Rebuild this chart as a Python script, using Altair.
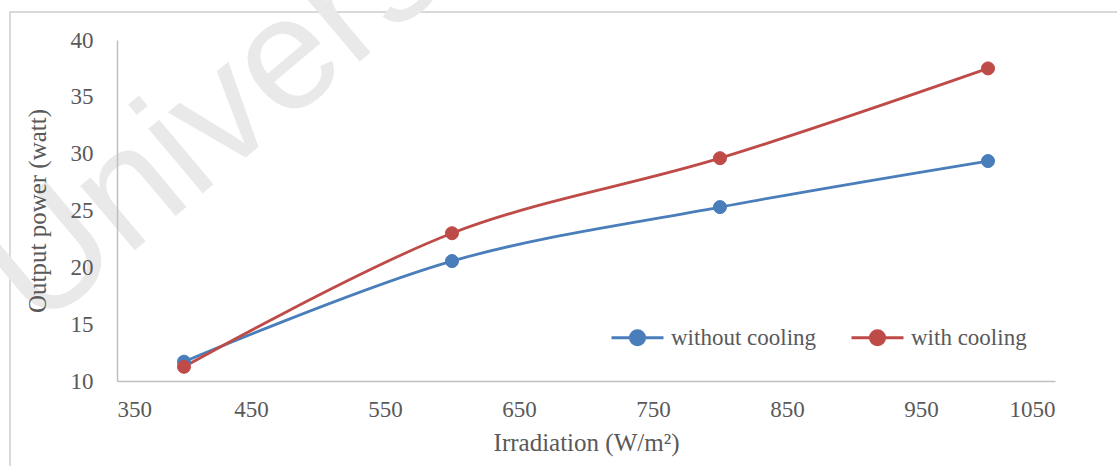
import altair as alt
import pandas as pd

irradiation = [400, 600, 800, 1000]
without_cooling = [11.7, 20.55, 25.3, 29.35]
with_cooling = [11.25, 23.0, 29.6, 37.5]
series_names = ["without cooling", "with cooling"]
series_colors = ["#4A7EBB", "#BE4B48"]

rows = []
for x, a, b in zip(irradiation, without_cooling, with_cooling):
    rows.append({"x": x, "y": a, "series": series_names[0]})
    rows.append({"x": x, "y": b, "series": series_names[1]})
df = pd.DataFrame(rows)

FONT = "Liberation Serif"
TXT = "#595959"
AXC = "#BFBFBF"

legend_path = "M-1,0L1,0M-0.27,0A0.27,0.27,0,1,1,0.27,0A0.27,0.27,0,1,1,-0.27,0Z"

xs = alt.X("x:Q", scale=alt.Scale(domain=[350, 1050], nice=False, zero=False),
           axis=alt.Axis(values=[350, 450, 550, 650, 750, 850, 950, 1050],
                         format="d", title="Irradiation (W/m²)", zindex=2))
ys = alt.Y("y:Q", scale=alt.Scale(domain=[10, 40], nice=False, zero=False),
           axis=alt.Axis(values=[10, 15, 20, 25, 30, 35, 40],
                         title="Output power (watt)", zindex=2))
cscale = alt.Scale(domain=series_names, range=series_colors)

leg = alt.Legend(title=None, orient="none", legendX=493, legendY=270,
                 direction="horizontal", symbolType=legend_path, symbolSize=2704,
                 symbolStrokeWidth=3, labelFont=FONT, labelFontSize=23,
                 labelColor=TXT, labelOffset=6, columnPadding=28)

lines = alt.Chart(df).mark_line(interpolate="catmull-rom", strokeWidth=2.8).encode(
    x=xs, y=ys,
    stroke=alt.Stroke("series:N", scale=cscale, legend=leg, sort=series_names),
)

points = alt.Chart(df).mark_point(filled=True, size=170, opacity=1, strokeWidth=1).encode(
    x=xs, y=ys,
    fill=alt.Fill("series:N", scale=cscale, legend=leg, sort=series_names),
    stroke=alt.Stroke("series:N", scale=cscale, legend=leg, sort=series_names),
)

wm = alt.Chart(pd.DataFrame({"t": ["University"]})).mark_text(
    font="Liberation Sans", fontSize=160, color="#E9E9E9", angle=320,
    align="left", baseline="middle",
).encode(text="t:N", x=alt.value(-110), y=alt.value(255))

frame = alt.Chart(pd.DataFrame({"k": [0]})).mark_rect(
    fill=None, stroke="#D9D9D9", strokeWidth=2,
).encode(x=alt.value(-107), x2=alt.value(1010), y=alt.value(-28), y2=alt.value(440))

chart = alt.layer(frame, wm, lines, points).properties(
    width=938, height=341,
    background="white",
    autosize=alt.AutoSizeParams(type="none"),
    padding={"left": 117, "top": 40, "right": 62, "bottom": 85},
).configure_view(stroke=None).configure_axis(
    domainColor=AXC, domainWidth=1.5, ticks=False, grid=False,
    labelFont=FONT, labelFontSize=23, labelColor=TXT,
    titleFont=FONT, titleFontSize=25, titleColor=TXT, titleFontWeight="normal",
).configure_axisY(labelPadding=24, titlePadding=20).configure_axisX(
    labelPadding=17, titlePadding=9
)

chart.save("out.html", embed_options={"renderer": "svg", "actions": False})
